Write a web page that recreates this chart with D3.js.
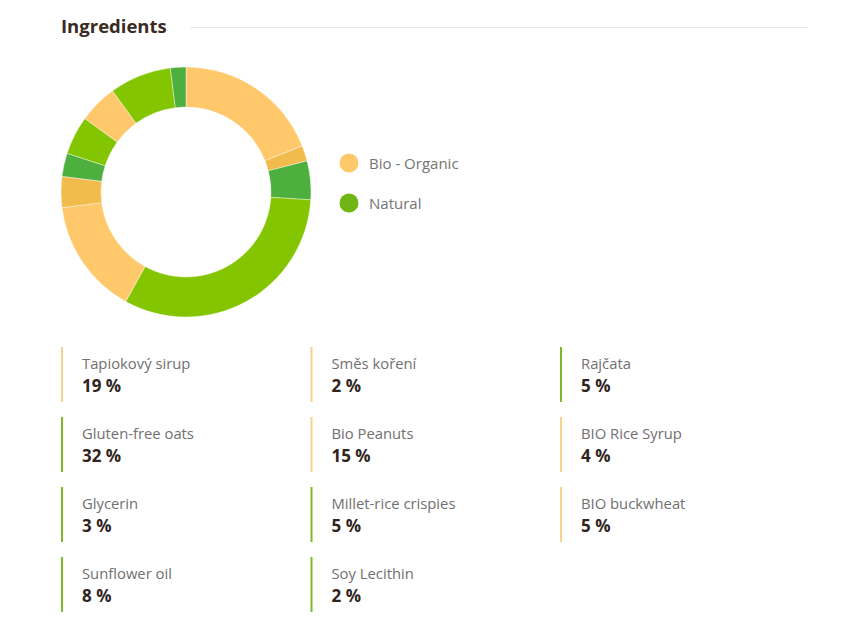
<!DOCTYPE html>
<html>
  <head>
    <title>Ingredients</title>
    <meta charset="utf-8" />
    <script src="https://d3js.org/d3.v7.min.js"></script>
    <style>
      body { margin: 0; background: #fff; }
      text { font-family: "Open Sans", "Noto Sans", sans-serif; }
    </style>
  </head>
  <body>
    <div id="chart"></div>
    <script>
      // ingredients in drawing order (clockwise from 12 o'clock)
      var names = [
        "Tapiokový sirup", "Směs koření", "Rajčata",
        "Gluten-free oats", "Bio Peanuts", "BIO Rice Syrup",
        "Glycerin", "Millet-rice crispies", "BIO buckwheat",
        "Sunflower oil", "Soy Lecithin"
      ];
      var shares = [19, 2, 5, 32, 15, 4, 3, 5, 5, 8, 2];
      var kinds = ["bio", "bio", "natural", "natural", "bio", "bio",
                   "natural", "natural", "bio", "natural", "natural"];
      // which shade of the kind colour the slice uses
      var shades = [0, 1, 1, 0, 0, 1, 1, 0, 0, 0, 1];

      var legendKeys = ["bio", "natural"];
      var legendLabels = ["Bio - Organic", "Natural"];

      var sliceColors = {
        bio: ["#fec86b", "#f2bc4d"],
        natural: ["#84c502", "#4caf3e"]
      };
      var barColors = { bio: "#f6d28c", natural: "#7db92a" };
      var legendColors = { bio: "#fec86b", natural: "#6fb514" };

      var width = 859, height = 639;
      var svg = d3.select("#chart").append("svg")
        .attr("width", width)
        .attr("height", height);

      // title + rule
      svg.append("text")
        .attr("x", 61).attr("y", 33)
        .style("font-size", "18.5px").style("font-weight", 700)
        .style("fill", "#3a2a22")
        .text("Ingredients");
      svg.append("line")
        .attr("x1", 190).attr("x2", 808)
        .attr("y1", 27.5).attr("y2", 27.5)
        .style("stroke", "#e8e8e8").style("stroke-width", 1);

      // donut
      var pie = d3.pie().sort(null).value(function (d) { return d; });
      var arc = d3.arc().innerRadius(85).outerRadius(125);
      var donut = svg.append("g").attr("transform", "translate(186,192)");
      donut.selectAll("path")
        .data(pie(shares))
        .enter()
        .append("path")
        .attr("d", arc)
        .style("fill", function (d, i) { return sliceColors[kinds[i]][shades[i]]; })
        .style("stroke", "#fff")
        .style("stroke-width", 0.4);

      // legend
      var legend = svg.append("g").attr("transform", "translate(349,163)");
      var item = legend.selectAll("g")
        .data(legendKeys)
        .enter()
        .append("g")
        .attr("transform", function (d, i) { return "translate(0," + i * 40 + ")"; });
      item.append("circle")
        .attr("r", 9.5)
        .style("fill", function (d) { return legendColors[d]; });
      item.append("text")
        .attr("x", 20).attr("y", 5.5)
        .style("font-size", "15px").style("fill", "#747474")
        .text(function (d, i) { return legendLabels[i]; });

      // ingredient grid, three columns
      var col = d3.scaleLinear().domain([0, 1]).range([61, 310.5]);
      var row = d3.scaleLinear().domain([0, 1]).range([347, 417]);

      var cell = svg.append("g").selectAll("g")
        .data(names)
        .enter()
        .append("g")
        .attr("transform", function (d, i) {
          return "translate(" + col(i % 3) + "," + row(Math.floor(i / 3)) + ")";
        });
      cell.append("rect")
        .attr("width", 2).attr("height", 55)
        .style("fill", function (d, i) { return barColors[kinds[i]]; });
      cell.append("text")
        .attr("x", 21).attr("y", 21.5)
        .style("font-size", "14.8px").style("fill", "#707070")
        .text(function (d) { return d; });
      cell.append("text")
        .attr("x", 21).attr("y", 44.5)
        .style("font-size", "17px").style("font-weight", 700)
        .style("fill", "#2f2420")
        .text(function (d, i) { return shares[i] + " %"; });
    </script>
  </body>
</html>
